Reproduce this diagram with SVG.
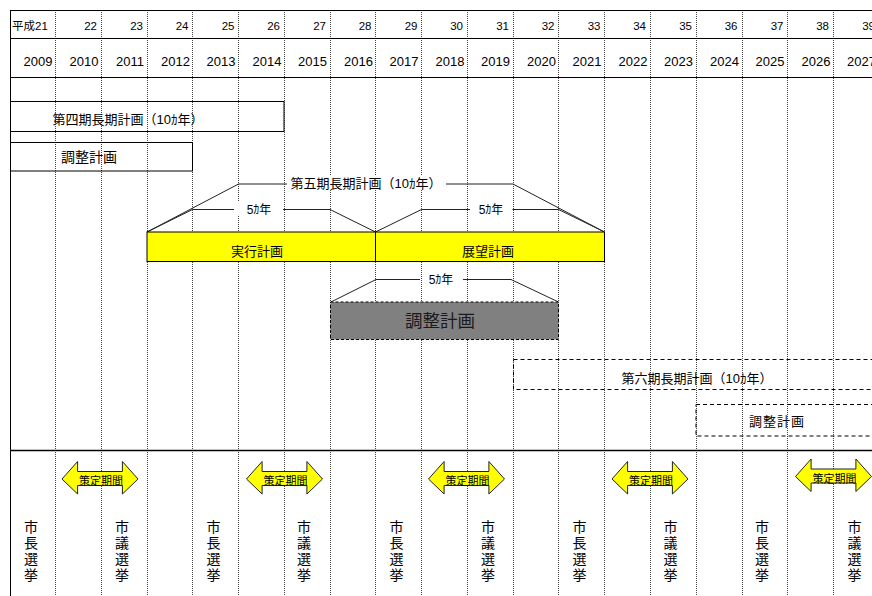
<svg xmlns="http://www.w3.org/2000/svg" width="872" height="596" viewBox="0 0 872 596">
<style>
text{font-family:"Liberation Sans","Noto Sans CJK JP",sans-serif;fill:#000}
.hd{font-size:11.5px;text-anchor:end}
.yr{font-size:13px;text-anchor:end}
.lbl{font-size:13px;text-anchor:middle}
.sm{font-size:12px;text-anchor:middle}
.grid{stroke:#444;stroke-width:1;stroke-dasharray:1 1;fill:none}
.solid{stroke:#000;stroke-width:1;fill:none}
.box{stroke:#000;stroke-width:1;fill:none}
.dbox{stroke:#000;stroke-width:1;fill:none;stroke-dasharray:4 3}
.br{stroke:#222;stroke-width:1;fill:none}
.arr{fill:#FFFF00;stroke:#222;stroke-width:1}
.ar{font-size:11px;text-anchor:middle}
.vt{font-size:14px;text-anchor:middle}
</style>
<defs>
<polygon id="dblarrow" points="-38,0 -22.4,-17.5 -22.4,-7.5 22.4,-7.5 22.4,-17.5 38,0 22.4,15 22.4,6.5 -22.4,6.5 -22.4,15" class="arr"/>
</defs>
<rect x="0" y="0" width="872" height="596" fill="#fff"/>
<g id="grid">
<path class="grid" d="M55.5 10V596M101.5 10V596M147.5 10V596M192.5 10V596M238.5 10V596M284.5 10V596M330.5 10V596M375.5 10V596M421.5 10V596M467.5 10V596M513.5 10V596M558.5 10V596M604.5 10V596M650.5 10V596M696.5 10V596M742.5 10V596M787.5 10V596M833.5 10V596"/>
<path class="solid" d="M10 10.5H872M10 38.5H872M10 77.5H872M10.5 10V596"/>
<path stroke="#000" stroke-width="1.6" fill="none" d="M10 450.5H872"/>
</g>
<g id="header">
<text x="12" y="30" style="font-size:11.5px">平成21</text>
<text class="hd" x="97" y="30">22</text>
<text class="hd" x="143" y="30">23</text>
<text class="hd" x="188.5" y="30">24</text>
<text class="hd" x="234.5" y="30">25</text>
<text class="hd" x="280" y="30">26</text>
<text class="hd" x="326" y="30">27</text>
<text class="hd" x="371.5" y="30">28</text>
<text class="hd" x="417.5" y="30">29</text>
<text class="hd" x="463" y="30">30</text>
<text class="hd" x="509" y="30">31</text>
<text class="hd" x="554.5" y="30">32</text>
<text class="hd" x="600.5" y="30">33</text>
<text class="hd" x="646" y="30">34</text>
<text class="hd" x="692" y="30">35</text>
<text class="hd" x="737.5" y="30">36</text>
<text class="hd" x="783.5" y="30">37</text>
<text class="hd" x="829" y="30">38</text>
<text class="hd" x="875" y="30">39</text>
<text class="yr" x="52.5" y="65.5">2009</text>
<text class="yr" x="98.5" y="65.5">2010</text>
<text class="yr" x="144" y="65.5">2011</text>
<text class="yr" x="190" y="65.5">2012</text>
<text class="yr" x="235.5" y="65.5">2013</text>
<text class="yr" x="281.5" y="65.5">2014</text>
<text class="yr" x="327" y="65.5">2015</text>
<text class="yr" x="373" y="65.5">2016</text>
<text class="yr" x="418.5" y="65.5">2017</text>
<text class="yr" x="464.5" y="65.5">2018</text>
<text class="yr" x="510" y="65.5">2019</text>
<text class="yr" x="556" y="65.5">2020</text>
<text class="yr" x="601.5" y="65.5">2021</text>
<text class="yr" x="647.5" y="65.5">2022</text>
<text class="yr" x="693" y="65.5">2023</text>
<text class="yr" x="739" y="65.5">2024</text>
<text class="yr" x="784.5" y="65.5">2025</text>
<text class="yr" x="830.5" y="65.5">2026</text>
<text class="yr" x="876" y="65.5">2027</text>
</g>
<g id="plan4">
<rect class="box" x="10.5" y="101.5" width="273.5" height="30"/>
<text class="lbl" x="128" y="124">第四期長期計画（10ｶ年）</text>
</g>
<g id="adjust4">
<rect class="box" x="10.5" y="142.5" width="182" height="28.5"/>
<text x="61" y="162" style="font-size:14px">調整計画</text>
</g>
<g id="connectors">
<polyline class="br" points="147,232 238.5,184 287,184"/>
<polyline class="br" points="446,184 513,184 604.5,232"/>
<polyline class="br" points="147,232 192.5,209.5 234,209.5"/>
<polyline class="br" points="283,209.5 330,209.5 375.5,232"/>
<polyline class="br" points="375.5,232 421.5,209.5 470,209.5"/>
<polyline class="br" points="512.5,209.5 558.5,209.5 604.5,232"/>
<polyline class="br" points="331,302 376,279.5 420,279.5"/>
<polyline class="br" points="463,279.5 511,279.5 558.5,302"/>
</g>
<g id="plan5-label">
<rect x="289" y="175" width="155" height="15" fill="#fff"/>
<text class="lbl" x="366" y="187.5">第五期長期計画（10ｶ年）</text>
</g>
<g id="span5a">
<rect x="238" y="202" width="44" height="14" fill="#fff"/>
<text class="sm" x="259" y="213.5">5ｶ年</text>
</g>
<g id="span5b">
<rect x="472" y="202" width="39" height="14" fill="#fff"/>
<text class="sm" x="491" y="213.5">5ｶ年</text>
</g>
<g id="jikkou">
<rect x="147" y="232" width="228.5" height="29.5" fill="#FFFF00" stroke="#000"/>
<text class="lbl" x="257" y="255.5">実行計画</text>
</g>
<g id="tenbou">
<rect x="375.5" y="232" width="229" height="29.5" fill="#FFFF00" stroke="#000"/>
<text class="lbl" x="488" y="255.5">展望計画</text>
</g>
<g id="span5c">
<rect x="422" y="272" width="39" height="14" fill="#fff"/>
<text class="sm" x="441" y="283.5">5ｶ年</text>
</g>
<g id="adjust5">
<rect x="330.5" y="302" width="228" height="37.5" fill="#808080" stroke="#000" stroke-dasharray="3 2"/>
<text x="440" y="327" style="font-size:17.5px;text-anchor:middle;fill:#1a1a1a">調整計画</text>
</g>
<g id="plan6">
<rect class="dbox" x="513.5" y="359.5" width="370" height="30"/>
<text class="lbl" x="697" y="382.5">第六期長期計画（10ｶ年）</text>
</g>
<g id="adjust6">
<rect class="dbox" x="696" y="404.5" width="190" height="31.5"/>
<text class="lbl" x="777" y="425.5" style="letter-spacing:1px">調整計画</text>
</g>
<g id="arrow1"><use href="#dblarrow" x="100" y="479"/><text class="ar" x="101" y="485">策定期間</text></g>
<g id="arrow2"><use href="#dblarrow" x="284.5" y="479"/><text class="ar" x="285.5" y="485">策定期間</text></g>
<g id="arrow3"><use href="#dblarrow" x="466.5" y="479"/><text class="ar" x="467.5" y="485">策定期間</text></g>
<g id="arrow4"><use href="#dblarrow" x="650" y="479"/><text class="ar" x="651" y="485">策定期間</text></g>
<g id="arrow5"><use href="#dblarrow" x="833.5" y="476.5"/><text class="ar" x="834.5" y="482.5">策定期間</text></g>
<g id="election1"><text class="vt" x="31"><tspan x="31" y="532">市</tspan><tspan x="31" y="548">長</tspan><tspan x="31" y="564">選</tspan><tspan x="31" y="580">挙</tspan></text></g>
<g id="election2"><text class="vt" x="122"><tspan x="122" y="532">市</tspan><tspan x="122" y="548">議</tspan><tspan x="122" y="564">選</tspan><tspan x="122" y="580">挙</tspan></text></g>
<g id="election3"><text class="vt" x="213.5"><tspan x="213.5" y="532">市</tspan><tspan x="213.5" y="548">長</tspan><tspan x="213.5" y="564">選</tspan><tspan x="213.5" y="580">挙</tspan></text></g>
<g id="election4"><text class="vt" x="304"><tspan x="304" y="532">市</tspan><tspan x="304" y="548">議</tspan><tspan x="304" y="564">選</tspan><tspan x="304" y="580">挙</tspan></text></g>
<g id="election5"><text class="vt" x="396.5"><tspan x="396.5" y="532">市</tspan><tspan x="396.5" y="548">長</tspan><tspan x="396.5" y="564">選</tspan><tspan x="396.5" y="580">挙</tspan></text></g>
<g id="election6"><text class="vt" x="488"><tspan x="488" y="532">市</tspan><tspan x="488" y="548">議</tspan><tspan x="488" y="564">選</tspan><tspan x="488" y="580">挙</tspan></text></g>
<g id="election7"><text class="vt" x="579.5"><tspan x="579.5" y="532">市</tspan><tspan x="579.5" y="548">長</tspan><tspan x="579.5" y="564">選</tspan><tspan x="579.5" y="580">挙</tspan></text></g>
<g id="election8"><text class="vt" x="670.5"><tspan x="670.5" y="532">市</tspan><tspan x="670.5" y="548">議</tspan><tspan x="670.5" y="564">選</tspan><tspan x="670.5" y="580">挙</tspan></text></g>
<g id="election9"><text class="vt" x="762"><tspan x="762" y="532">市</tspan><tspan x="762" y="548">長</tspan><tspan x="762" y="564">選</tspan><tspan x="762" y="580">挙</tspan></text></g>
<g id="election10"><text class="vt" x="854.5"><tspan x="854.5" y="532">市</tspan><tspan x="854.5" y="548">議</tspan><tspan x="854.5" y="564">選</tspan><tspan x="854.5" y="580">挙</tspan></text></g>
</svg>
